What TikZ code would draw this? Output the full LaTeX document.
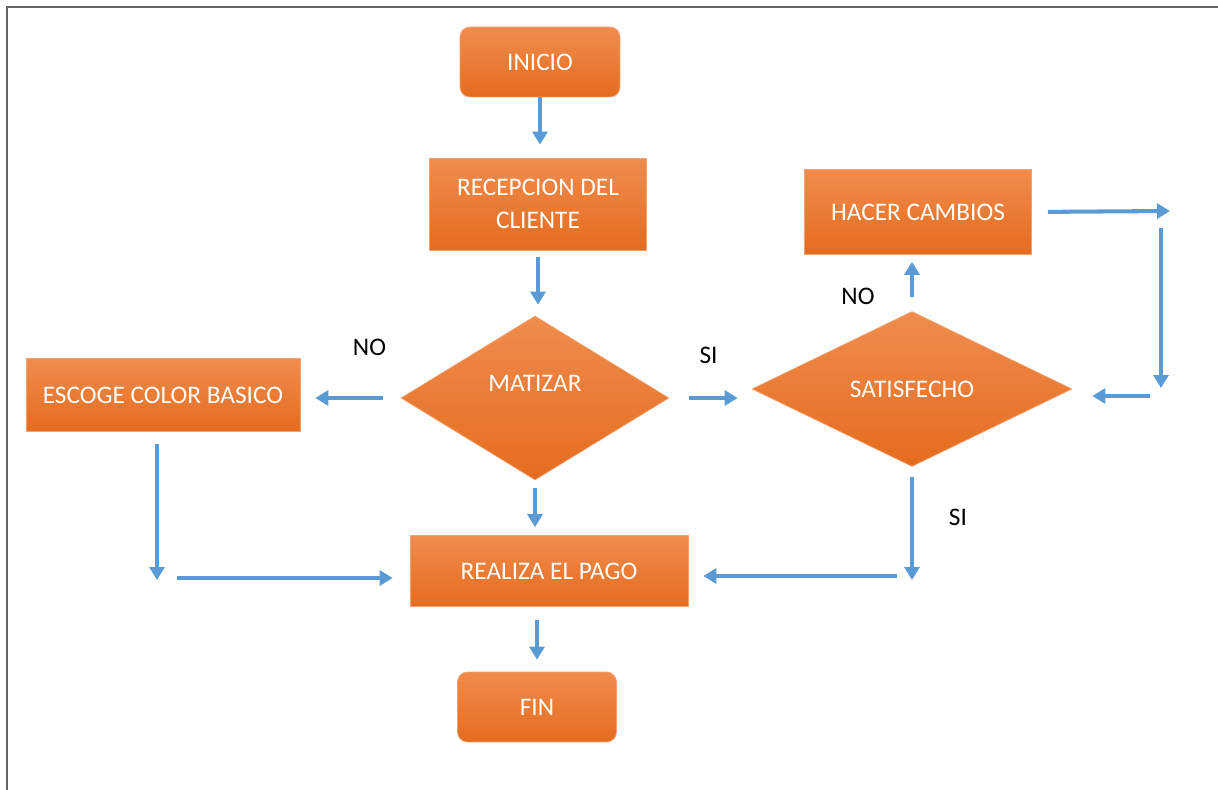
\documentclass[tikz,border=0pt]{standalone}
\usepackage{fontspec}
\setmainfont{Carlito}
\usetikzlibrary{arrows.meta,shapes.geometric}
\definecolor{boxtop}{RGB}{240,140,78}
\definecolor{boxbot}{RGB}{228,108,30}
\definecolor{boxline}{RGB}{244,160,110}
\definecolor{flowblue}{RGB}{91,155,213}
\tikzset{
  box/.style={rectangle, top color=boxtop, bottom color=boxbot, draw=boxline, thin,
    text=white, font=\fontsize{14.4}{18.7}\selectfont, align=center, inner sep=0pt},
  startstop/.style={box, rounded corners=0.2cm},
  decision/.style={diamond, top color=boxtop, bottom color=boxbot, draw=boxline, thin, inner sep=0pt},
  dlabel/.style={text=white, font=\fontsize{14.4}{17}\selectfont},
  flow/.style={flowblue, line width=2.3pt, -{Triangle[width=0.3cm,length=0.26cm]}},
  answer/.style={black, font=\fontsize{14.4}{17}\selectfont}
}
\begin{document}
\begin{tikzpicture}[x=0.02cm,y=-0.02cm]
        \useasboundingbox (0,0) rectangle (1218,790);
        \draw [gray!80!black, line width=1.2pt] (7,790)--(7,7)--(1218,7);
        % nodes
        \node [startstop, minimum width=3.2cm, minimum height=1.4cm] (inicio) at (540,62) {INICIO};
        \node [box, minimum width=4.34cm, minimum height=1.84cm] (recep) at (538,204) {RECEPCION DEL\\CLIENTE};
        \node [decision, minimum width=5.36cm, minimum height=3.28cm,
               label={[dlabel,yshift=0.3cm]center:MATIZAR}] (matizar) at (535,398) {};
        \node [box, minimum width=5.48cm, minimum height=1.46cm] (escoge) at (163,395) {ESCOGE COLOR BASICO};
        \node [decision, minimum width=6.4cm, minimum height=3.1cm,
               label={[dlabel]center:SATISFECHO}] (satisf) at (912,389) {};
        \node [box, minimum width=4.54cm, minimum height=1.7cm] (hacer) at (918,212) {HACER CAMBIOS};
        \node [box, minimum width=5.56cm, minimum height=1.42cm] (realiza) at (549,571) {REALIZA EL PAGO};
        \node [startstop, minimum width=3.18cm, minimum height=1.4cm] (fin) at (537,707) {FIN};
        % free ends
        \coordinate (tr) at (1170,211);
        \coordinate (rt) at (1161,228);
        \coordinate (rb) at (1161,388);
        \coordinate (rl) at (1150,396);
        \coordinate (sb) at (912,580);
        \coordinate (sl) at (897,576);
        \coordinate (el) at (157,580);
        \coordinate (eb) at (177,578);
        % connectors
        \draw[flow, shorten >=0.26cm] (inicio.south)--(inicio.south |- recep.north);
        \draw[flow, shorten <=0.14cm, shorten >=0.22cm] (recep.south)--(recep.south |- matizar.north);
        \draw[flow, shorten <=0.36cm, shorten >=0.3cm] (matizar.west)--node [answer, xshift=0.38cm, yshift=1.02cm]{NO}(matizar.west -| escoge.east);
        \draw[flow, shorten <=0.4cm, shorten >=0.28cm] (matizar.east)--node [answer, xshift=-0.04cm, yshift=0.86cm]{SI}(matizar.east -| satisf.west);
        \draw[flow, shorten <=0.16cm, shorten >=0.16cm] (matizar.south)--(matizar.south |- realiza.north);
        \draw[flow, shorten <=0.28cm, shorten >=0.14cm] (satisf.north)--node [answer, xshift=-1.08cm, yshift=-0.26cm]{NO}(satisf.north |- hacer.south);
        \draw[flow, shorten <=0.32cm] (hacer.east)--(tr);
        \draw[flow] (rt)--(rb);
        \draw[flow, shorten >=0.4cm] (rl)--(rl -| satisf.east);
        \draw[flow, shorten <=0.2cm] (satisf.south)--node [answer, xshift=0.92cm, yshift=0.12cm]{SI}(sb);
        \draw[flow, shorten >=0.3cm] (sl)--(sl -| realiza.east);
        \draw[flow, shorten <=0.24cm] (el |- escoge.south)--(el);
        \draw[flow, shorten >=0.34cm] (eb)--(eb -| realiza.west);
        \draw[flow, shorten <=0.26cm, shorten >=0.24cm] (realiza.south -| fin.north)--(fin.north);
    \end{tikzpicture}
\end{document}
